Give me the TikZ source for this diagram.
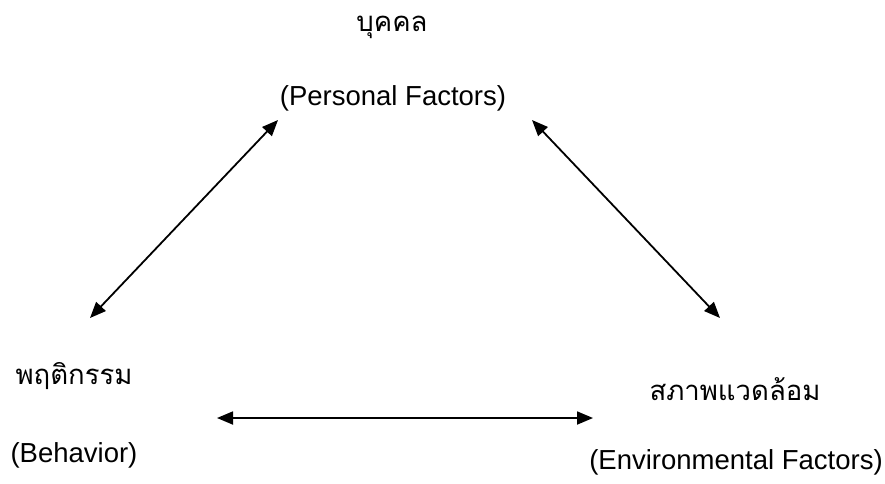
\documentclass[tikz,border=0pt]{standalone}
\usepackage{fontspec}
\setmainfont{Liberation Sans}
\newfontfamily\thaifont[Script=Thai]{Loma}
\usetikzlibrary{arrows.meta}
\begin{document}
\begin{tikzpicture}[x=1pt,y=-1pt,
  thlabel/.style={font=\thaifont\fontsize{27.5}{30}\selectfont, inner sep=0pt},
  enlabel/.style={font=\fontsize{27.5}{30}\selectfont, inner sep=0pt},
  link/.style={line width=1.8pt, {Triangle[length=16pt,width=13pt]}-{Triangle[length=16pt,width=13pt]}}]
  \useasboundingbox (0,0) rectangle (885,483);

  % labels of the three factors
  \node[thlabel] (pth) at (392,27) {บุคคล};
  \node[enlabel] (pen) at (393,98) {(Personal Factors)};
  \node[thlabel] (bth) at (74,376) {พฤติกรรม};
  \node[enlabel] (ben) at (74,455) {(Behavior)};
  \node[thlabel] (eth) at (735,389) {สภาพแวดล้อม};
  \node[enlabel] (een) at (736,462) {(Environmental Factors)};

  % ends of the reciprocal links
  \coordinate (pl) at (278,120);
  \coordinate (pr) at (532,120);
  \coordinate (bt) at (90,318);
  \coordinate (et) at (720,318);
  \coordinate (bh) at (217,418);
  \coordinate (eh) at (593,418);

  \draw[link] (bt) -- (pl);
  \draw[link] (pr) -- (et);
  \draw[link] (bh) -- (eh);
\end{tikzpicture}
\end{document}
